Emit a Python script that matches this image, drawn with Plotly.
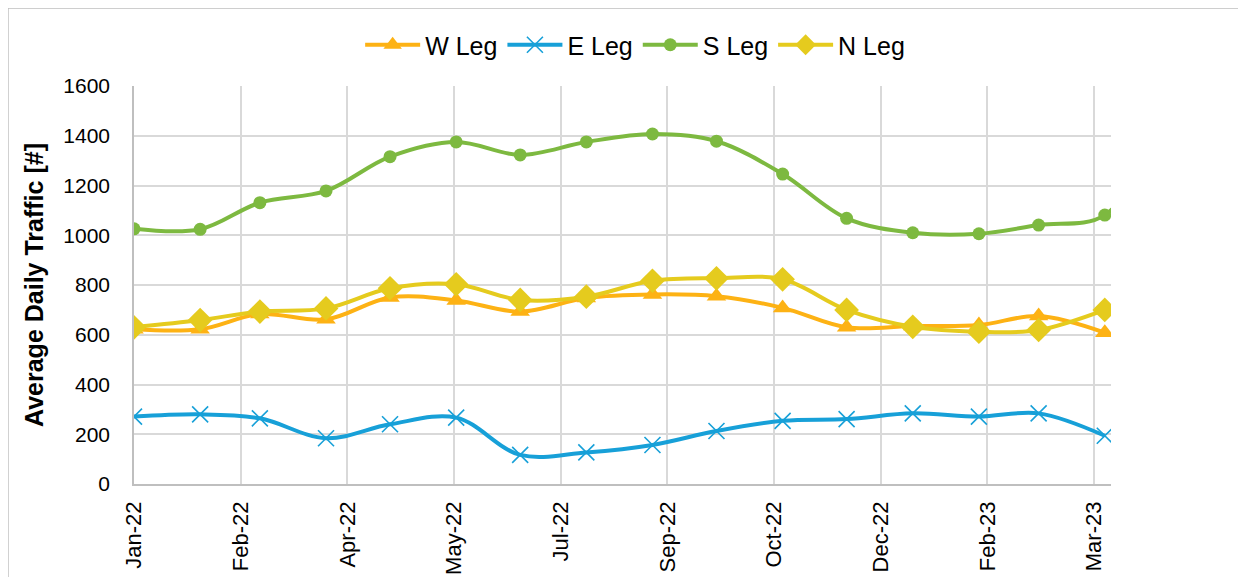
import plotly.graph_objects as go

# ---- data ----
dates = ["2022-01-01", "2022-02-01", "2022-03-01", "2022-04-01", "2022-05-01", "2022-06-01",
         "2022-07-01", "2022-08-01", "2022-09-01", "2022-10-01", "2022-11-01", "2022-12-01",
         "2023-01-01", "2023-02-01", "2023-03-01", "2023-04-01", "2023-05-01"]
w_leg = [622, 622, 683, 662, 750, 738, 693, 748, 762, 755, 708, 630, 635, 639, 675, 608, None]
e_leg = [271, 280, 264, 184, 240, 267, 117, 127, 157, 213, 254, 261, 284, 271, 284, 194, None]
s_leg = [1026, 1024, 1131, 1178, 1316, 1375, 1323, 1375, 1407, 1378, 1246, 1068, 1010, 1006, 1041, 1081, 1480]
n_leg = [630, 659, 693, 706, 787, 803, 740, 753, 817, 827, 823, 700, 632, 612, 619, 700, None]

tick_dates = ["2022-01-01", "2022-02-20", "2022-04-11", "2022-05-31", "2022-07-20", "2022-09-08",
              "2022-10-28", "2022-12-17", "2023-02-05", "2023-03-27"]
tick_labels = ["Jan-22", "Feb-22", "Apr-22", "May-22", "Jul-22", "Sep-22",
               "Oct-22", "Dec-22", "Feb-23", "Mar-23"]

series = [
    ("W Leg", w_leg, "#FDB214", dict(symbol="triangle-up", size=17)),
    ("E Leg", e_leg, "#17A0D8", dict(symbol="x-thin-open", size=16, line=dict(width=1.6, color="#17A0D8"))),
    ("S Leg", s_leg, "#7DB940", dict(symbol="circle", size=13)),
    ("N Leg", n_leg, "#E5CB1E", dict(symbol="diamond", size=19)),
]

fig = go.Figure()
for name, vals, color, mk in series:
    fig.add_trace(go.Scatter(
        x=dates, y=vals, name=name, mode="lines+markers",
        line=dict(color=color, width=4, shape="spline", smoothing=1.0),
        marker=dict(color=color, **mk),
        connectgaps=False,
    ))

OFF = 8  # page body margin
L, R, T, B = 134 - OFF, 1110.7 - OFF, 86 - OFF, 484 - OFF
W, H = 1246 - OFF, 577 - OFF
pw, ph = R - L, B - T

fig.update_layout(
    width=W, height=H, autosize=False,
    margin=dict(l=L, r=W - R, t=T, b=H - B, pad=0),
    paper_bgcolor="white", plot_bgcolor="white",
    font=dict(family="Liberation Sans, Arial, sans-serif", size=21, color="#000000"),
    showlegend=True,
    legend=dict(orientation="h", x=(635 - OFF - L) / pw, xanchor="center",
                y=(B - (45 - OFF)) / ph, yanchor="middle",
                font=dict(size=25, family="Liberation Sans, Arial, sans-serif"),
                itemwidth=55, traceorder="normal", bgcolor="rgba(0,0,0,0)"),
    xaxis=dict(type="date", range=["2022-01-01", "2023-04-03 22:00"],
               tickmode="array", tickvals=tick_dates, ticktext=tick_labels,
               tickangle=-90, showgrid=True, gridcolor="#D9D9D9", gridwidth=1.5,
               showline=True, linecolor="#BFBFBF", linewidth=1.5, ticks="",
               ticklabelstandoff=7, automargin=False,
               tickfont=dict(size=22), zeroline=False),
    yaxis=dict(range=[0, 1600], dtick=200, tick0=0, showgrid=True, gridcolor="#D9D9D9",
               gridwidth=1.5, showline=True, linecolor="#BFBFBF", linewidth=1.5,
               ticks="", ticklabelstandoff=18, tickfont=dict(size=21), zeroline=False,
               automargin=False,
               title=dict(text="<b>Average Daily Traffic [#]</b>", font=dict(size=25), standoff=13)),
    shapes=[dict(type="rect", xref="paper", yref="paper",
                 x0=(8 - OFF - L) / pw, x1=(1300 - L) / pw,
                 y0=(B - 620) / ph, y1=(B - (7 - OFF + 1)) / ph,
                 line=dict(color="#BFBFBF", width=1.5), fillcolor="rgba(0,0,0,0)", layer="below")],
)

fig.write_html("out.html")
